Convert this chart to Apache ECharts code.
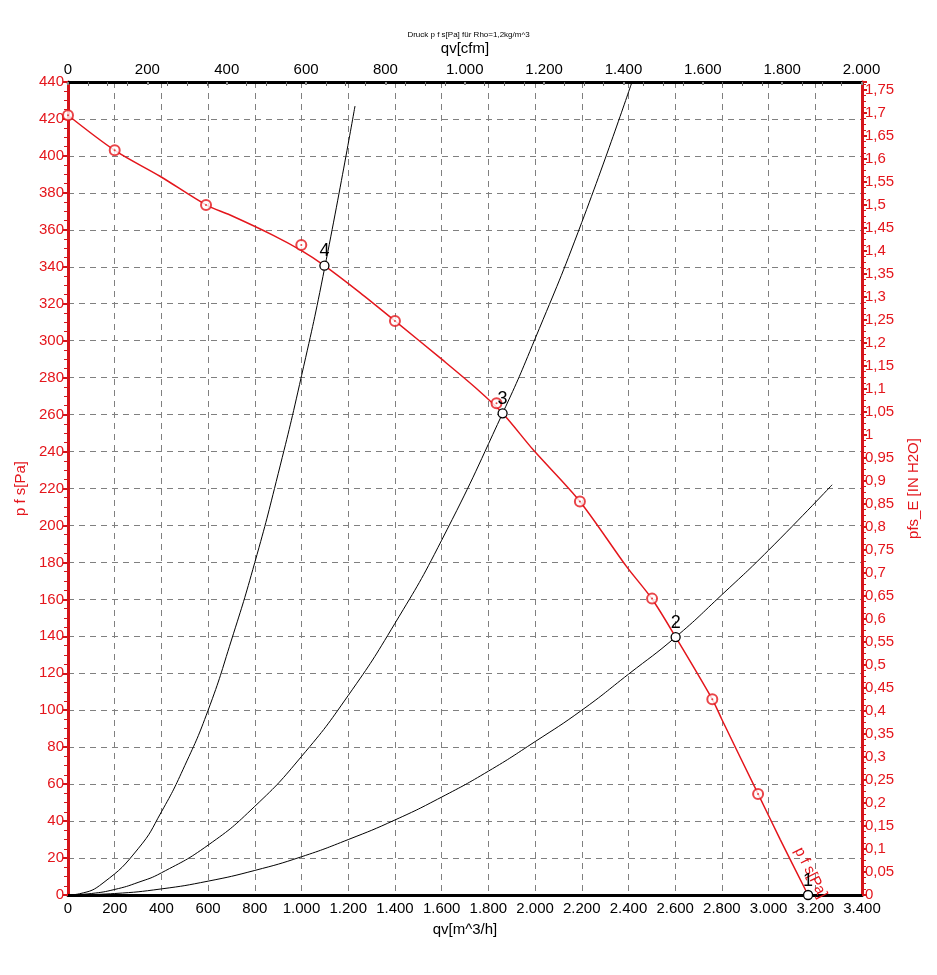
<!DOCTYPE html>
<html>
<head>
<meta charset="utf-8">
<script src="https://cdn.jsdelivr.net/npm/echarts@6/dist/echarts.min.js"></script>
<style>html,body{margin:0;padding:0;background:#fff}#c{width:937px;height:975px}</style>
</head>
<body>
<div id="c"></div>
<script>
// Fan curve (flow m^3/h, static pressure Pa)
const fanCurve = [[0,422],[200,403],[394,389],[591,373.5],[694,368],[879,357],[1000,348.7],[1098,340.6],[1250,326],[1400,310.7],[1600,290],[1750,274],[1861,260.7],[1993,240.8],[2192,213],[2392,177.7],[2501,160.2],[2602,139.6],[2759,105.9],[2800,95],[2955,54.7],[3050,30],[3169,0]];
// Measured points (red circles)
const measured = [[0,422],[200,403],[591,373.4],[999,351.8],[1400,310.7],[1835,266.1],[2192,213],[2501,160.4],[2759,106],[2955,54.7]];
// System curves
const system4 = [[0,0],[50,0.7],[150,6.5],[300,25],[400,45],[500,70],[600,100],[700,138],[800,180],[900,228],[1000,281],[1100,340],[1229,427]];
const system3 = [[0,0],[100,0.8],[200,3],[300,6.8],[400,12],[600,27],[800,48],[1000,75],[1200,108],[1400,147],[1600,192],[1861,260.7],[2000,301],[2200,364],[2415,440]];
const system2 = [[0,0],[200,0.8],[400,3.3],[600,7.5],[800,13.3],[1000,20.7],[1200,30],[1400,40.6],[1600,53],[1800,67],[2000,83],[2200,100],[2400,119.5],[2602,139.6],[2800,162.5],[3000,186.6],[3272,222]];
// Operating points
const opPoints = [[3169,0,'1'],[2602,139.6,'2'],[1861,260.7,'3'],[1098,340.6,'4']];
// Axis ranges
const flowMax = 3400;          // m^3/h
const cfmMax = 3400 / 1.699011; // cfm
const paMax = 440;
const inH2OMax = 440 / 249.089;

const RED = '#e4161c';
const AXRED = '#d4151b';
function thou(v){ const r = Math.round(v); return String(r).replace(/\B(?=(\d{3})+(?!\d))/g, '.'); }

const chart = echarts.init(document.getElementById('c'));
chart.setOption({
  animation: false,
  backgroundColor: '#fff',
  title: {
    text: 'Druck p f s[Pa] für Rho=1,2kg/m^3',
    left: 'center', top: 26,
    textStyle: {fontSize: 8, fontWeight: 'normal', color: '#000', fontFamily: 'Liberation Sans'}
  },
  grid: {left: 68, right: 75, top: 82, bottom: 80},
  xAxis: [{
    type: 'value', position: 'bottom', min: 0, max: flowMax, interval: 200,
    name: 'qv[m^3/h]', nameLocation: 'middle', nameGap: 27,
    nameTextStyle: {color: '#000', fontSize: 15, fontFamily: 'Liberation Sans'},
    axisLine: {onZero: false, lineStyle: {color: '#000', width: 3}},
    axisTick: {show: false},
    axisLabel: {color: '#000', fontSize: 15, fontFamily: 'Liberation Sans', margin: 6, formatter: thou},
    splitLine: {show: true, lineStyle: {color: '#808080', type: [6,5], width: 1}}
  },{
    type: 'value', position: 'top', min: 0, max: cfmMax, interval: 200,
    name: 'qv[cfm]', nameLocation: 'middle', nameGap: 26,
    nameTextStyle: {color: '#000', fontSize: 15, fontFamily: 'Liberation Sans'},
    axisLine: {onZero: false, lineStyle: {color: '#000', width: 3}},
    axisTick: {show: true, inside: true, length: 3, lineStyle: {color: '#888', width: 2}},
    minorTick: {show: true, splitNumber: 4, length: 4, lineStyle: {color: '#666', width: 1}},
    axisLabel: {color: '#000', fontSize: 15, fontFamily: 'Liberation Sans', margin: 5,
      formatter: v => Math.abs(v - Math.round(v/200)*200) > 0.5 ? '' : thou(v)},
    splitLine: {show: false}
  }],
  yAxis: [{
    type: 'value', position: 'left', min: 0, max: paMax, interval: 20,
    name: 'p f s[Pa]', nameLocation: 'middle', nameGap: 40, nameRotate: 90,
    nameTextStyle: {color: RED, fontSize: 15, fontFamily: 'Liberation Sans'},
    axisLine: {onZero: false, lineStyle: {color: AXRED, width: 3}},
    axisTick: {show: true, length: 5, lineStyle: {color: AXRED, width: 2}},
    minorTick: {show: true, splitNumber: 4, length: 4, lineStyle: {color: AXRED, width: 1}},
    axisLabel: {color: RED, fontSize: 15, fontFamily: 'Liberation Sans', margin: 4},
    splitLine: {show: true, lineStyle: {color: '#808080', type: [6,5], width: 1}}
  },{
    type: 'value', position: 'right', min: 0, max: inH2OMax, interval: 0.05,
    name: 'pfs_E [IN H2O]', nameLocation: 'middle', nameGap: 44, nameRotate: 90,
    nameTextStyle: {color: RED, fontSize: 15, fontFamily: 'Liberation Sans'},
    axisLine: {onZero: false, lineStyle: {color: AXRED, width: 3}},
    axisTick: {show: true, length: 5, lineStyle: {color: AXRED, width: 2}},
    minorTick: {show: true, splitNumber: 4, length: 4, lineStyle: {color: AXRED, width: 1}},
    axisLabel: {color: RED, fontSize: 15, fontFamily: 'Liberation Sans', margin: 3,
      formatter: v => Math.abs(v - Math.round(v/0.05)*0.05) > 1e-4 ? '' : String(Math.round(v*100)/100).replace('.', ',')},
    splitLine: {show: false}
  }],
  series: [
    {type: 'line', data: system4, symbol: 'none', smooth: true, lineStyle: {color: '#000', width: 1}, z: 3},
    {type: 'line', data: system3, symbol: 'none', smooth: true, lineStyle: {color: '#000', width: 1}, z: 3},
    {type: 'line', data: system2, symbol: 'none', smooth: true, lineStyle: {color: '#000', width: 1}, z: 3},
    {type: 'line', data: fanCurve, symbol: 'none', smooth: 0.3, lineStyle: {color: RED, width: 1.5}, z: 4,
      markPoint: {
        symbol: 'circle', symbolSize: 0,
        data: [{coord: [3180, 12], value: 'p f s[Pa]'}],
        label: {show: true, formatter: 'p f s[Pa]', color: RED, fontSize: 15, fontFamily: 'Liberation Sans', rotate: -63, position: 'inside'}
      }
    },
    {type: 'scatter', data: measured, symbol: 'emptyCircle', symbolSize: 10,
      itemStyle: {color: RED, borderColor: RED, borderWidth: 1.3}, z: 5},
    {type: 'scatter', data: measured, symbol: 'circle', symbolSize: 2,
      itemStyle: {color: RED}, z: 6},
    {type: 'scatter', data: opPoints.map(p => [p[0], p[1], p[2]]), symbol: 'circle', symbolSize: 9,
      itemStyle: {color: '#fff', borderColor: '#000', borderWidth: 1.3, opacity: 1}, z: 7,
      label: {show: true, position: 'top', distance: 0, color: '#000', fontSize: 18, fontFamily: 'Liberation Sans',
        formatter: p => p.data[2]}}
  ]
});
</script>
</body>
</html>
